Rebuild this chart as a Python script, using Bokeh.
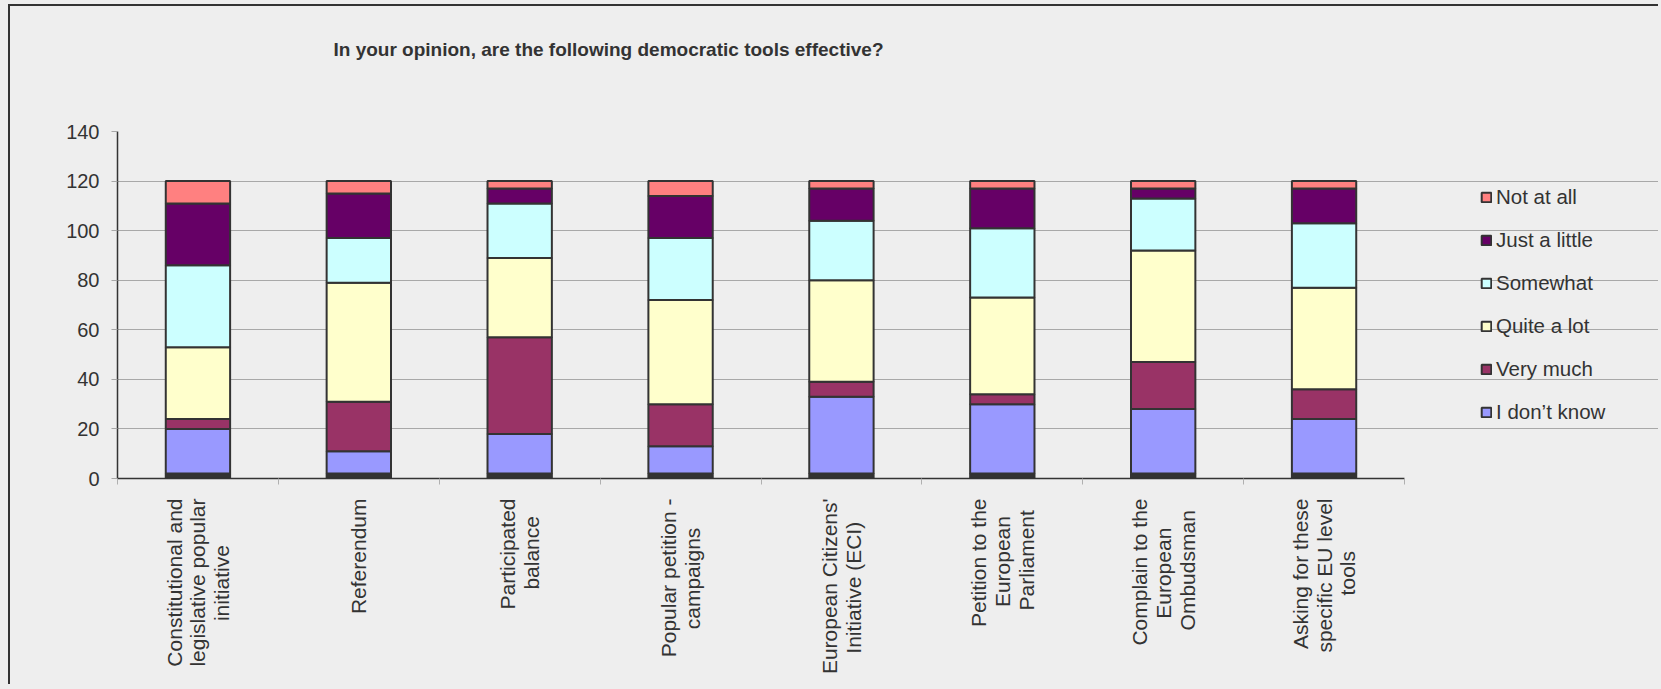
import math
from bokeh.plotting import figure
from bokeh.models import Range1d, FixedTicker, Legend, LegendItem, ColumnDataSource, Title
from bokeh.embed import file_html
from bokeh.resources import INLINE

# ---- data ----
# lines are padded with no-break spaces so that they sit centred under each other
NB = "\u00a0"
categories = [
    "Constitutional and\nlegislative popular\ninitiative" + NB * 8,
    "Referendum",
    "Participated\nbalance" + NB * 3,
    "Popular petition -\ncampaigns" + NB * 5,
    "European Citizens'\nInitiative (ECI)" + NB * 4,
    "Petition to the\nEuropean" + NB * 3 + "\nParliament" + NB * 2,
    "Complain to the\nEuropean" + NB * 5 + "\nOmbudsman" + NB * 2,
    "Asking for these\nspecific EU level\ntools" + NB * 9,
]
no_answer = [2, 2, 2, 2, 2, 2, 2, 2]
dont_know = [18, 9, 16, 11, 31, 28, 26, 22]
very_much = [4, 20, 39, 17, 6, 4, 19, 12]
quite_a_lot = [29, 48, 32, 42, 41, 39, 45, 41]
somewhat = [33, 18, 22, 25, 24, 28, 21, 26]
just_a_little = [25, 18, 6, 17, 13, 16, 4, 14]
not_at_all = [9, 5, 3, 6, 3, 3, 3, 3]

series_keys = ["no_answer", "dont_know", "very_much", "quite_a_lot", "somewhat", "just_a_little", "not_at_all"]
series_names = [None, "I don\u2019t know", "Very much", "Quite a lot", "Somewhat", "Just a little", "Not at all"]
series_colors = ["#333333", "#9999FF", "#993366", "#FFFFCC", "#CCFFFF", "#660066", "#FF8080"]
y_ticks = [0, 20, 40, 60, 80, 100, 120, 140]
title_text = "In your opinion, are the following democratic tools effective?"

FONT = "Liberation Sans"
TXT = "#333333"

N = len(categories)
W, H = 1650, 680
BL, BT, BB = 107, 125, 208
CAT_PX = 160.875  # pixel width of one category slot
x_max = N * (W - BL) / (CAT_PX * N)

xs = [i + 0.5 for i in range(N)]
source = ColumnDataSource(dict(
    x=xs, no_answer=no_answer, dont_know=dont_know, very_much=very_much,
    quite_a_lot=quite_a_lot, somewhat=somewhat, just_a_little=just_a_little,
    not_at_all=not_at_all,
))

p = figure(width=W, height=H, output_backend="svg", toolbar_location=None,
           x_range=Range1d(0, x_max), y_range=Range1d(0, 140),
           min_border_left=BL, min_border_right=0, min_border_top=BT, min_border_bottom=BB)
p.background_fill_color = "#EEEEEE"
p.border_fill_color = "#EEEEEE"
p.outline_line_color = None
p.styles = {"margin-left": "8px", "margin-top": "4px",
            "border-top": "2px solid #333333", "border-left": "2px solid #333333"}

rs = p.vbar_stack(series_keys, x="x", width=0.4, source=source,
                  fill_color=series_colors, line_color="#333333", line_width=2)

# spacer between frame and title
p.add_layout(Title(text=" ", text_font_size="1px", standoff=64), "above")

# title
p.title.text = title_text
p.title.align = "left"
p.title.offset = 216
p.title.standoff = 10
p.title.text_font = FONT
p.title.text_font_size = "19px"
p.title.text_font_style = "bold"
p.title.text_color = TXT

# axes
p.xgrid.grid_line_color = None
p.ygrid.grid_line_color = "#A8A8A8"
p.ygrid.grid_line_width = 1
p.ygrid.bounds = (0, N)

p.yaxis.ticker = FixedTicker(ticks=y_ticks)
p.yaxis.axis_line_color = "#333333"
p.yaxis.axis_line_width = 1.5
p.yaxis.major_tick_line_color = "#A8A8A8"
p.yaxis.major_tick_out = 6
p.yaxis.major_tick_in = 0
p.yaxis.minor_tick_line_color = None
p.yaxis.major_label_standoff = 12
p.yaxis.major_label_text_font = FONT
p.yaxis.major_label_text_font_size = "20px"
p.yaxis.major_label_text_color = TXT

p.xaxis.bounds = (0, N)
p.xaxis.ticker = FixedTicker(ticks=xs, minor_ticks=list(range(N + 1)))
p.xaxis.major_label_overrides = {x: c for x, c in zip(xs, categories)}
p.xaxis.major_label_orientation = math.pi / 2
p.xaxis.axis_line_color = "#333333"
p.xaxis.axis_line_width = 1.5
p.xaxis.major_tick_line_color = None
p.xaxis.minor_tick_line_color = "#B0B0B0"
p.xaxis.minor_tick_out = 6
p.xaxis.minor_tick_in = 0
p.xaxis.major_label_standoff = 14
p.xaxis.major_label_text_font = FONT
p.xaxis.major_label_text_font_size = "21px"
p.xaxis.major_label_text_line_height = 1.04
p.xaxis.major_label_text_color = TXT

# legend
items = [LegendItem(label=n, renderers=[r]) for n, r in zip(series_names, rs) if n]
items = items[::-1]
legend = Legend(items=items, location=(1363, 54), padding=0, margin=0,
                border_line_color=None, background_fill_alpha=0,
                glyph_width=12, glyph_height=12, label_standoff=4,
                label_height=23, spacing=19,
                label_text_font=FONT, label_text_font_size="20.5px", label_text_color=TXT)
p.add_layout(legend, "center")

html = file_html(p, INLINE)
html = html.replace("<head>", "<head><style>body{background:#EEEEEE;}</style>", 1)
open("out.html", "w").write(html)
